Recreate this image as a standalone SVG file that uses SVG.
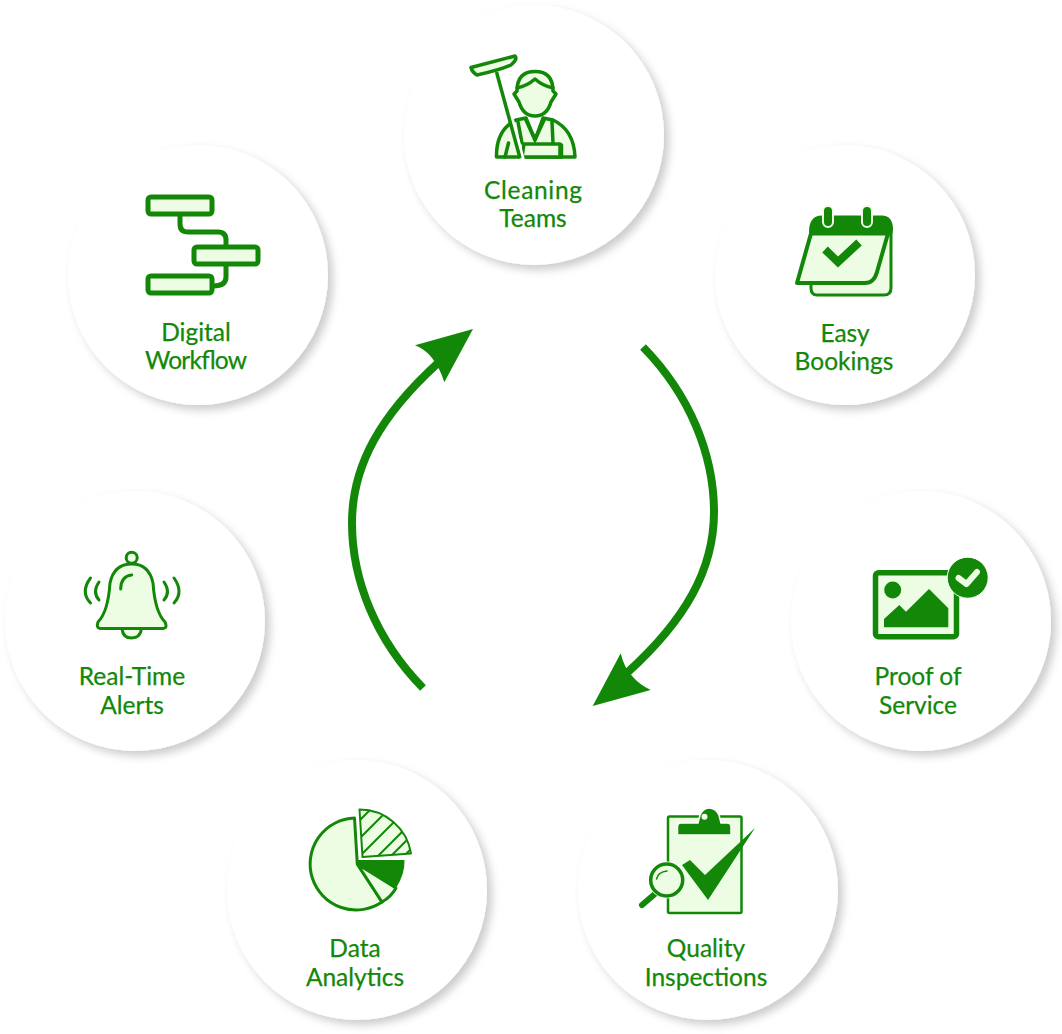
<svg xmlns="http://www.w3.org/2000/svg" width="1062" height="1034" viewBox="0 0 1062 1034">
<style>
.disc{fill:#fff;filter:url(#sh)}
.l{fill:#138808;stroke:#138808;stroke-width:.25px;font-family:"Lato","Liberation Sans",sans-serif;font-size:24.5px;text-anchor:middle}
.s{fill:#ecfde3;stroke:#138808;stroke-width:3;stroke-linejoin:round;stroke-linecap:round}
.n{fill:none;stroke:#138808;stroke-width:3;stroke-linecap:round;stroke-linejoin:round}
.d{fill:#138808}
.arc{fill:none;stroke:#138808;stroke-width:8}
#cleaning-teams .s,#cleaning-teams .n{stroke-width:3.5}
.b5{stroke-width:5}
</style>
<defs>
<filter id="sh" x="-20%" y="-20%" width="140%" height="140%"><feDropShadow dx="5" dy="5" stdDeviation="4" flood-color="#000" flood-opacity=".2"/></filter>
<clipPath id="hc"><path d="M362.500,857 L359.500,809.500 A52,52 0 0 1 411,853.500 Z"/></clipPath>
</defs>
<rect width="1062" height="1034" fill="#fff"/>
<g id="connectors">
<path class="arc" d="M643,347 C690,395 714,455 714,512 C714,570 685,620 628,672"/>
<path class="d" d="M592.700,706 L620.700,653.300 Q624,668 633,677 Q640,685 650.700,690 Z"/>
<path class="arc" d="M423,688 C376,640 352,580 352,523 C352,465 381,415 438,363"/>
<path class="d" d="M473,329 L415,345.300 Q425,349 432,358 Q440,368 444.300,382.300 Z"/>
</g>
<g id="cleaning-teams">
<circle class="disc" cx="534" cy="135" r="130"/>
<path class="s" d="M471,67.500 L515,56 Q518,59 511,65 Q500,70 477,75 Q472,72 471,67.500Z"/>
<path class="s" d="M496.500,157 Q496,130 516,120 L526,118 L535,140 L543,118 L553,120 Q574,130 575,157 Z"/>
<path d="M524,144 L560,144 L560,157 L522,157 Z" fill="#ecfde3" stroke="#138808" stroke-width="3.500" stroke-linejoin="round"/>
<path class="n" d="M518,122 L522,143 M552,122 L553,143 M561.500,145 L561.500,157 M508.500,143 L505,157"/>
<path d="M499,72 L523,160" stroke="#fff" stroke-width="4" fill="none"/>
<path d="M496.500,72 L520,158" stroke="#138808" stroke-width="3.500" fill="none"/>
<path class="s" d="M517,91 Q517,71.500 535,71.500 Q553,71.500 553,91 L556,94 L551,102 Q547,116 535,116 Q523,116 519,102 L514,94 Z"/>
<path class="n" d="M517,88 Q527,86 535,79 Q543,86 553,88"/>
<path class="d" d="M527,119 L535,135 L543,119 L546,120 L535,144 L524,120Z"/>
</g>
<g id="easy-bookings">
<circle class="disc" cx="845" cy="275" r="130"/>
<path class="s" d="M811,280 L811,288 Q811,295 817,295 L884,295 Q891,295 891,288 L891,228 Z"/>
<path class="d" d="M809,232 Q809,215.500 822,215.500 L882,215.500 Q893,215.500 893,230 L891,240 L889,234 L809,234Z"/>
<path class="s" style="stroke-width:4" d="M811,233.500 L888,233.500 L877,272 Q874,283 865,283 L797,283 Z"/>
<rect class="d" x="823" y="206" width="10" height="21" rx="5" stroke="#ecfde3" stroke-width="2"/>
<rect class="d" x="862" y="206" width="10" height="21" rx="5" stroke="#ecfde3" stroke-width="2"/>
<path d="M825,249.500 L838,262 L859,242.500" fill="none" stroke="#138808" stroke-width="8"/>
</g>
<g id="digital-workflow">
<circle class="disc" cx="198" cy="275" r="130"/>
<path class="n b5" d="M180,215 L180,224 Q180,232 188,232 L218,232 Q226,232 226,240 L226,246 M226,265 L226,277 Q226,286 213,286"/>
<rect class="s b5" x="148" y="197" width="64" height="17" rx="3"/>
<rect class="s b5" x="194" y="247" width="64" height="17" rx="3"/>
<rect class="s b5" x="148" y="276" width="64" height="17" rx="3"/>
</g>
<g id="real-time-alerts">
<circle class="disc" cx="135" cy="621" r="130"/>
<circle class="s" cx="131.700" cy="557.700" r="5.500"/>
<path class="s" d="M122,629 Q123,638 131.700,638 Q140,638 141.500,629"/>
<path class="s" d="M131.700,564 Q114,564 110,583 Q108,612 98,622 Q96,628 100,628.500 L163,628.500 Q168,628 165,622 Q155,612 153,583 Q149,564 131.700,564Z"/>
<path class="n" d="M120.700,589 Q121,576 131.700,575 M90.500,578 Q80,592 90.500,603 M99,582 Q92,592 99,600 M164,582 Q171,592 164,600 M174,578 Q184,592 174,603"/>
</g>
<g id="proof-of-service">
<circle class="disc" cx="921" cy="621" r="130"/>
<rect class="s" style="stroke-width:5.500" x="875.500" y="572.700" width="81" height="64" rx="3"/>
<circle class="d" cx="892.700" cy="590" r="8.500"/>
<path class="d" d="M884,619 L899.300,605 L906,611.700 L929,589 L948.300,608.300 L948.300,627.300 L884,627.300Z"/>
<circle class="d" cx="967.700" cy="577.700" r="20.500" stroke="#fff" stroke-width="1"/>
<path d="M958.500,578 L966.500,584 L977,572" fill="none" stroke="#ecfde3" stroke-width="6" stroke-linecap="round" stroke-linejoin="round"/>
</g>
<g id="data-analytics">
<circle class="disc" cx="357" cy="890" r="130"/>
<path class="s" d="M357.300,864 L354.500,818 A46,46 0 1 0 382,902Z"/>
<path class="s" d="M357.300,864 L382,902 Q391,897 396,888Z"/>
<path class="d" d="M357,860 L404.500,860 Q405,874 396,888 L357.300,864Z"/>
<path class="s" style="stroke-width:2" d="M362.500,857 L359.500,809.500 A52,52 0 0 1 411,853.500Z"/>
<g clip-path="url(#hc)" stroke="#138808" stroke-width="2">
<path d="M355,825 L375,805 M355,843 L395,803 M355,861 L410,806 M368,866 L420,814 M381,866 L425,822 M394,866 L425,835"/>
</g>
</g>
<g id="quality-inspections">
<circle class="disc" cx="708" cy="890" r="130"/>
<rect class="s" style="stroke-width:2.500" x="668" y="816.500" width="73.500" height="96.500" rx="1.500"/>
<path d="M677.500,835 L677.500,827 Q677.500,823 681,823 L698,823 L700,815 Q703,808 709,808 Q716,808 719,815 L721,823 L727,823 Q731,823 731,827 L731,835Z" fill="#138808" stroke="#fff" stroke-width="1.500"/>
<circle cx="704.500" cy="816.700" r="3" fill="#ecfde3"/>
<path class="d" d="M682,865 L690,860 L705,875 L755,828 L708,900 Z"/>
<path d="M642,905 L656,893" stroke="#138808" stroke-width="6" stroke-linecap="round"/>
<circle cx="666.700" cy="880" r="18.500" fill="#fff"/>
<circle class="s" style="stroke-width:3.500" cx="666.700" cy="880" r="16"/>
<path class="n" style="stroke-width:1.500" d="M656.500,879 Q658,872 667,871"/>
</g>
<g id="labels">
<text class="l"><tspan x="533" y="199" textLength="98">Cleaning</tspan><tspan x="533" y="227">Teams</tspan></text>
<text class="l"><tspan x="845" y="342">Easy</tspan><tspan x="844" y="370">Bookings</tspan></text>
<text class="l"><tspan x="196" y="341">Digital</tspan><tspan x="196" y="369" textLength="102">Workflow</tspan></text>
<text class="l"><tspan x="132" y="685">Real-Time</tspan><tspan x="132" y="714">Alerts</tspan></text>
<text class="l"><tspan x="918" y="685">Proof of</tspan><tspan x="918" y="714">Service</tspan></text>
<text class="l"><tspan x="355" y="957">Data</tspan><tspan x="355" y="986">Analytics</tspan></text>
<text class="l"><tspan x="706" y="957">Quality</tspan><tspan x="706" y="986">Inspections</tspan></text>
</g>
</svg>
